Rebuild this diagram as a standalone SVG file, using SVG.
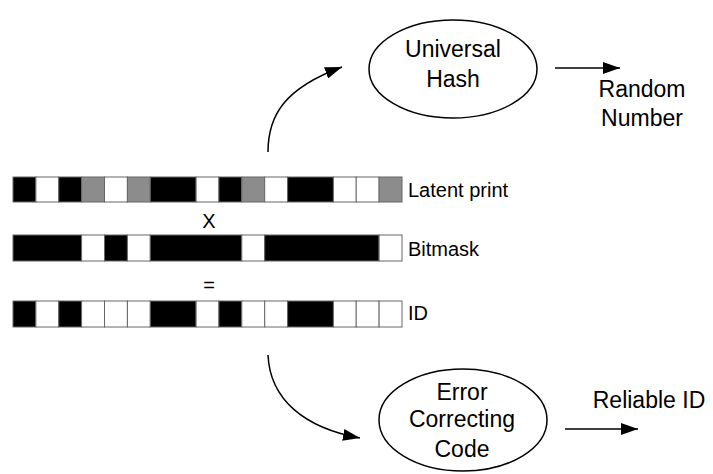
<svg xmlns="http://www.w3.org/2000/svg" width="713" height="474" viewBox="0 0 713 474">
<style>
text{font-family:"Liberation Sans",Arial,sans-serif;fill:#000}
.big{font-size:23px;text-anchor:middle}
.lbl{font-size:20px}
.k{fill:#000;stroke:#666;stroke-width:1}
.w{fill:#fff;stroke:#666;stroke-width:1}
.g{fill:#8c8c8c;stroke:#666;stroke-width:1}
.node{fill:#fff;stroke:#000;stroke-width:1.5}
.conn{fill:none;stroke:#000;stroke-width:1.5}
</style>
<defs>
<marker id="ah" markerUnits="userSpaceOnUse" markerWidth="17" markerHeight="12" refX="17" refY="6" orient="auto"><path d="M0,0 L17,6 L0,12 z" fill="#000"/></marker>
</defs>
<rect width="713" height="474" fill="#fff"/>
<g id="latent-print">
<rect class="k" x="13" y="177" width="22.9" height="25"/>
<rect class="w" x="35.9" y="177" width="22.9" height="25"/>
<rect class="k" x="58.8" y="177" width="22.9" height="25"/>
<rect class="g" x="81.6" y="177" width="22.9" height="25"/>
<rect class="w" x="104.5" y="177" width="22.9" height="25"/>
<rect class="g" x="127.4" y="177" width="22.9" height="25"/>
<rect class="k" x="150.3" y="177" width="45.8" height="25"/>
<rect class="w" x="196.1" y="177" width="22.9" height="25"/>
<rect class="k" x="218.9" y="177" width="22.9" height="25"/>
<rect class="g" x="241.8" y="177" width="22.9" height="25"/>
<rect class="w" x="264.7" y="177" width="22.9" height="25"/>
<rect class="k" x="287.6" y="177" width="45.8" height="25"/>
<rect class="w" x="333.4" y="177" width="22.9" height="25"/>
<rect class="w" x="356.2" y="177" width="22.9" height="25"/>
<rect class="g" x="379.1" y="177" width="22.9" height="25"/>
<text class="lbl" x="408" y="197">Latent print</text>
</g>
<g id="op-x"><text class="lbl" x="209" y="228" text-anchor="middle">X</text></g>
<g id="bitmask">
<rect class="k" x="13" y="235" width="68.6" height="26"/>
<rect class="w" x="81.6" y="235" width="22.9" height="26"/>
<rect class="k" x="104.5" y="235" width="22.9" height="26"/>
<rect class="w" x="127.4" y="235" width="22.9" height="26"/>
<rect class="k" x="150.3" y="235" width="91.5" height="26"/>
<rect class="w" x="241.8" y="235" width="22.9" height="26"/>
<rect class="k" x="264.7" y="235" width="114.4" height="26"/>
<rect class="w" x="379.1" y="235" width="22.9" height="26"/>
<text class="lbl" x="408" y="256">Bitmask</text>
</g>
<g id="op-eq"><text class="lbl" x="209" y="292" text-anchor="middle">=</text></g>
<g id="id">
<rect class="k" x="13" y="301" width="22.9" height="26"/>
<rect class="w" x="35.9" y="301" width="22.9" height="26"/>
<rect class="k" x="58.8" y="301" width="22.9" height="26"/>
<rect class="w" x="81.6" y="301" width="22.9" height="26"/>
<rect class="w" x="104.5" y="301" width="22.9" height="26"/>
<rect class="w" x="127.4" y="301" width="22.9" height="26"/>
<rect class="k" x="150.3" y="301" width="45.8" height="26"/>
<rect class="w" x="196.1" y="301" width="22.9" height="26"/>
<rect class="k" x="218.9" y="301" width="22.9" height="26"/>
<rect class="w" x="241.8" y="301" width="22.9" height="26"/>
<rect class="w" x="264.7" y="301" width="22.9" height="26"/>
<rect class="k" x="287.6" y="301" width="45.8" height="26"/>
<rect class="w" x="333.4" y="301" width="22.9" height="26"/>
<rect class="w" x="356.2" y="301" width="22.9" height="26"/>
<rect class="w" x="379.1" y="301" width="22.9" height="26"/>
<text class="lbl" x="408" y="320">ID</text>
</g>
<g id="universal-hash">
<ellipse class="node" cx="453" cy="69" rx="84" ry="49"/>
<text class="big" x="453" y="57">Universal</text>
<text class="big" x="453" y="87">Hash</text>
</g>
<g id="random-number">
<text class="big" x="642" y="97">Random</text>
<text class="big" x="642" y="126">Number</text>
</g>
<g id="ecc">
<ellipse class="node" cx="463" cy="420" rx="84" ry="51"/>
<text class="big" x="462" y="400">Error</text>
<text class="big" x="462" y="427">Correcting</text>
<text class="big" x="462" y="457">Code</text>
</g>
<g id="reliable-id">
<text class="big" x="649" y="408">Reliable ID</text>
</g>
<g id="connectors">
<path class="conn" d="M268,152 C268,115 285,88 342,67" marker-end="url(#ah)"/>
<path class="conn" d="M555,68 L620,68" marker-end="url(#ah)"/>
<path class="conn" d="M268,355 C270,400 305,428 360,438" marker-end="url(#ah)"/>
<path class="conn" d="M565,429 L638,429" marker-end="url(#ah)"/>
</g>
</svg>
